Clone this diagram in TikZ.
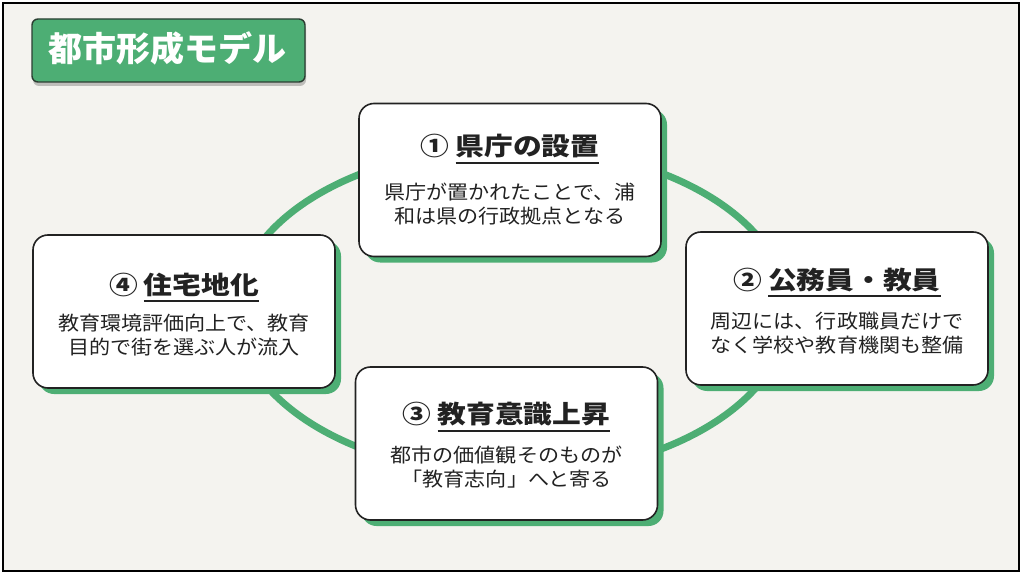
\documentclass[tikz,border=0pt]{standalone}
\usepackage{fontspec}
\setmainfont{Noto Sans CJK JP}
\newfontfamily\ttlfont{Noto Sans CJK JP}[FakeStretch=1.15]
\newfontfamily\bodyfont{Noto Sans CJK JP}[FakeStretch=1.08]
\usetikzlibrary{calc,shadows}
\definecolor{bgc}{HTML}{F4F3EF}
\definecolor{grn}{HTML}{4DAE74}
\definecolor{ink}{HTML}{222222}
\newcommand\myul[1]{\leavevmode\setbox0\hbox{#1}\rlap{\rule[-8pt]{\wd0}{2pt}}\box0}
\tikzset{
  stagebox/.style={draw=ink, line width=1.6pt, fill=white, rounded corners=15pt,
    minimum width=302, minimum height=153, inner sep=0pt,
    drop shadow={shadow xshift=6pt, shadow yshift=-6pt, fill=grn, opacity=1}},
  stagettl/.style={anchor=base, inner sep=0pt, text=ink,
    font=\ttlfont\bfseries\fontsize{25}{30}\selectfont},
  stagebody/.style={align=center, inner sep=0pt, text=ink,
    font=\bodyfont\fontsize{19.5}{24.5}\selectfont},
  headbox/.style={draw=ink!80!grn, line width=1.4pt, fill=grn, rounded corners=6pt,
    minimum width=273, minimum height=63, inner sep=0pt,
    drop shadow={shadow xshift=1pt, shadow yshift=-4pt, fill=black, opacity=0.22}}
}
\begin{document}
\begin{tikzpicture}[x=1pt,y=-1pt]
\useasboundingbox (0,0) rectangle (1024,577);
\fill[white] (0,0) rectangle (1024,577);
\draw[line width=2.6pt, fill=bgc] (3,3) rectangle (1019,571);
% heading
\node[headbox] (head) at (168.5,50.5) {};
\node[anchor=base, text=white, inner sep=0pt, font=\bfseries\fontsize{34}{40}\selectfont] (headtxt) at (167,62) {都市形成モデル};
% cycle ring
\draw[grn, line width=7pt] (512,311) ellipse [x radius=276, y radius=164];
% stage boxes
\node[stagebox] (b1) at (510,180) {};
\node[stagebox] (b2) at (837,308.5) {};
\node[stagebox] (b3) at (506.5,443.5) {};
\node[stagebox] (b4) at (184,311.5) {};
% titles
\node[stagettl] (t1) at ($(b1.center)+(0,-24)$) {①\hspace{6pt}\myul{県庁の設置}};
\node[stagettl] (t2) at ($(b2.center)+(0,-19.5)$) {②\hspace{6pt}\myul{公務員・教員}};
\node[stagettl] (t3) at ($(b3.center)+(0,-20)$) {③\hspace{6pt}\myul{教育意識上昇}};
\node[stagettl] (t4) at ($(b4.center)+(0,-17.5)$) {④\hspace{6pt}\myul{住宅地化}};
% bodies
\node[stagebody] (d1) at ($(b1.center)+(0,24)$) {県庁が置かれたことで、浦\\和は県の行政拠点となる};
\node[stagebody] (d2) at ($(b2.center)+(0,24.5)$) {周辺には、行政職員だけで\\なく学校や教育機関も整備};
\node[stagebody] (d3) at ($(b3.center)+(0,23.5)$) {都市の価値観そのものが\\「教育志向」へと寄る};
\node[stagebody] (d4) at ($(b4.center)+(0,23.5)$) {教育環境評価向上で、教育\\目的で街を選ぶ人が流入};
\end{tikzpicture}
\end{document}
